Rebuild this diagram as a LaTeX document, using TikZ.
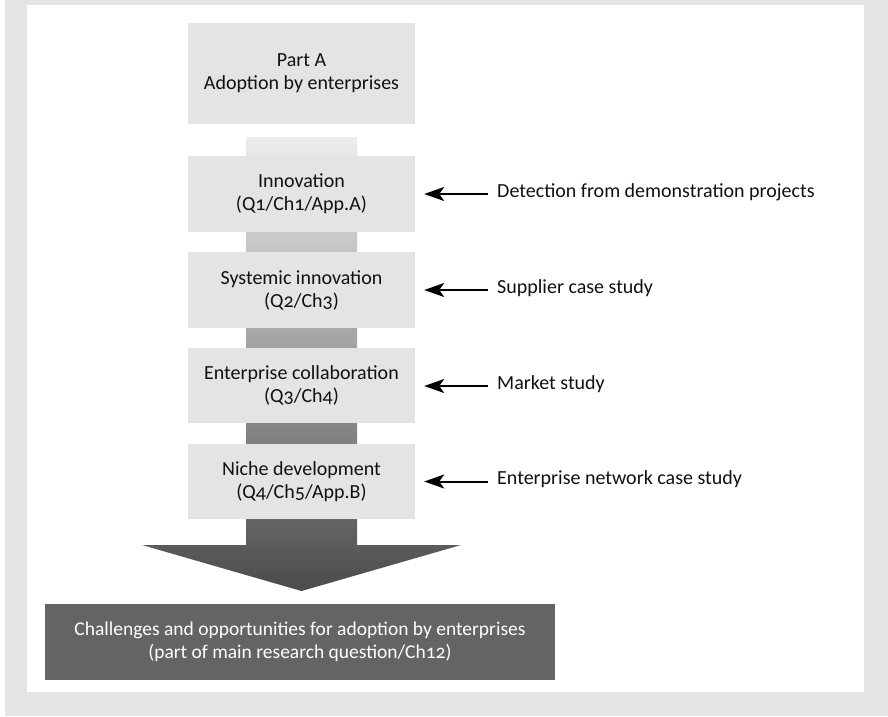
\documentclass[tikz,border=0pt]{standalone}
\usepackage{fontspec}
\setmainfont{Carlito}[Numbers=OldStyle]
\usetikzlibrary{arrows.meta}
\definecolor{framegrey}{HTML}{E3E4E3}
\definecolor{boxgrey}{HTML}{E3E4E3}
\definecolor{darkbox}{HTML}{636466}
\definecolor{inkc}{HTML}{111111}
\definecolor{shadetop}{HTML}{EDEDED}
\definecolor{shadebot}{HTML}{4A4B4D}
\begin{document}
\begin{tikzpicture}[x=1pt,y=-1pt,
  stagebox/.style={fill=boxgrey, minimum width=227pt, inner sep=0pt, align=center,
    font=\fontsize{20}{23}\selectfont, text=inkc},
  resultbox/.style={fill=darkbox, minimum width=510pt, minimum height=76pt, inner sep=0pt,
    align=center, font=\fontsize{19.5}{23}\selectfont, text=white},
  sidelabel/.style={anchor=west, inner sep=0pt, text height=11pt, text depth=5pt,
    font=\fontsize{20}{23}\selectfont, text=inkc},
  feed/.style={line width=2pt, -{Stealth[length=20pt,width=14pt,inset=5pt]},
    shorten >=9pt, shorten <=9pt, draw=black}]
% background and frame
\fill[white] (0,0) rectangle (888,716);
\fill[framegrey] (5,0) rectangle (888,716);
\fill[white] (27,5) rectangle (864,692);
\useasboundingbox (0,0) rectangle (888,716);
% shaded flow arrow behind the boxes
\shade[top color=shadetop, bottom color=shadebot]
  (246,137) -- (357,137) -- (357,545) -- (461,545) -- (301.5,591)
  -- (142,545) -- (246,545) -- cycle;
% stage boxes
\node[stagebox, minimum height=101pt] (partA) at (301.5,73.5) {Part A\\Adoption by enterprises};
\node[stagebox, minimum height=76pt] (innov) at (301.5,194) {Innovation\\(Q1/Ch1/App.A)};
\node[stagebox, minimum height=76pt] (syst) at (301.5,290) {Systemic innovation\\(Q2/Ch3)};
\node[stagebox, minimum height=75pt] (collab) at (301.5,385.5) {Enterprise collaboration\\(Q3/Ch4)};
\node[stagebox, minimum height=75pt] (niche) at (301.5,481.5) {Niche development\\(Q4/Ch5/App.B)};
\node[resultbox] (result) at (300,642) {Challenges and opportunities for adoption by enterprises\\(part of main research question/Ch12)};
% side labels
\node[sidelabel] (l1) at (497,194) {Detection from demonstration projects};
\node[sidelabel] (l2) at (497,290) {Supplier case study};
\node[sidelabel] (l3) at (497,386) {Market study};
\node[sidelabel] (l4) at (497,481.5) {Enterprise network case study};
% arrows
\draw[feed] (l1.west) -- (l1.west -| innov.east);
\draw[feed] (l2.west) -- (l2.west -| syst.east);
\draw[feed] (l3.west) -- (l3.west -| collab.east);
\draw[feed] (l4.west) -- (l4.west -| niche.east);
\end{tikzpicture}
\end{document}
